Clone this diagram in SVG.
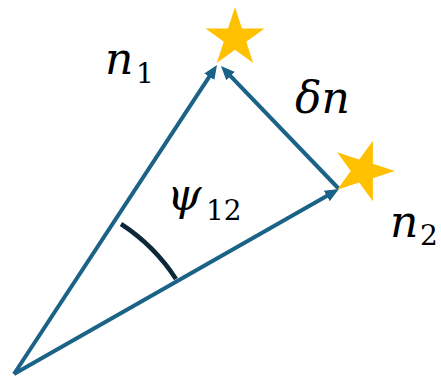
<svg xmlns="http://www.w3.org/2000/svg" width="441" height="382" viewBox="0 0 441 382">
  <style>
    .vec { stroke: #1A6286; stroke-width: 4; fill: none; marker-end: url(#arrow); }
    .arc { stroke: #0C2838; stroke-width: 4.5; fill: none; }
    .star { fill: #FFC000; }
    .mi { font-family: "DejaVu Serif", serif; font-style: italic; font-size: 44px; fill: #000; }
    .sub { font-family: "DejaVu Serif", serif; font-size: 28px; fill: #000; }
  </style>
  <defs>
    <marker id="arrow" viewBox="0 0 14 12" refX="6" refY="6" markerWidth="14" markerHeight="12" markerUnits="userSpaceOnUse" orient="auto">
      <path d="M0,0 L14,6 L0,12 z" fill="#1A6286"/>
    </marker>
    <path id="starShape" d="M0,-31 L6.97,-9.59 L29.48,-9.58 L11.27,3.66 L18.22,25.08 L0,11.85 L-18.22,25.08 L-11.27,3.66 L-29.48,-9.58 L-6.97,-9.59 Z"/>
  </defs>

  <g id="connectors">
    <line class="vec" x1="14" y1="374" x2="212.6" y2="71.7"/>
    <line class="vec" x1="14" y1="374" x2="332" y2="193"/>
    <line class="vec" x1="339" y1="189" x2="226.5" y2="71.8"/>
    <path class="arc" d="M121,224 A187,187 0 0 1 176,279"/>
  </g>

  <g id="star1">
    <use href="#starShape" class="star" transform="translate(235,38)"/>
  </g>
  <g id="star2">
    <use href="#starShape" class="star" transform="translate(363,171) rotate(90) scale(1.03)"/>
  </g>

  <g id="label-n1">
    <text class="mi" x="105" y="74">n</text>
    <text class="sub" x="136" y="83">1</text>
  </g>
  <g id="label-dn">
    <text class="mi" x="295" y="113">δn</text>
  </g>
  <g id="label-psi">
    <text class="mi" x="167" y="210">ψ</text>
    <text class="sub" x="206" y="220">12</text>
  </g>
  <g id="label-n2">
    <text class="mi" x="390" y="237">n</text>
    <text class="sub" x="420" y="245">2</text>
  </g>
</svg>
